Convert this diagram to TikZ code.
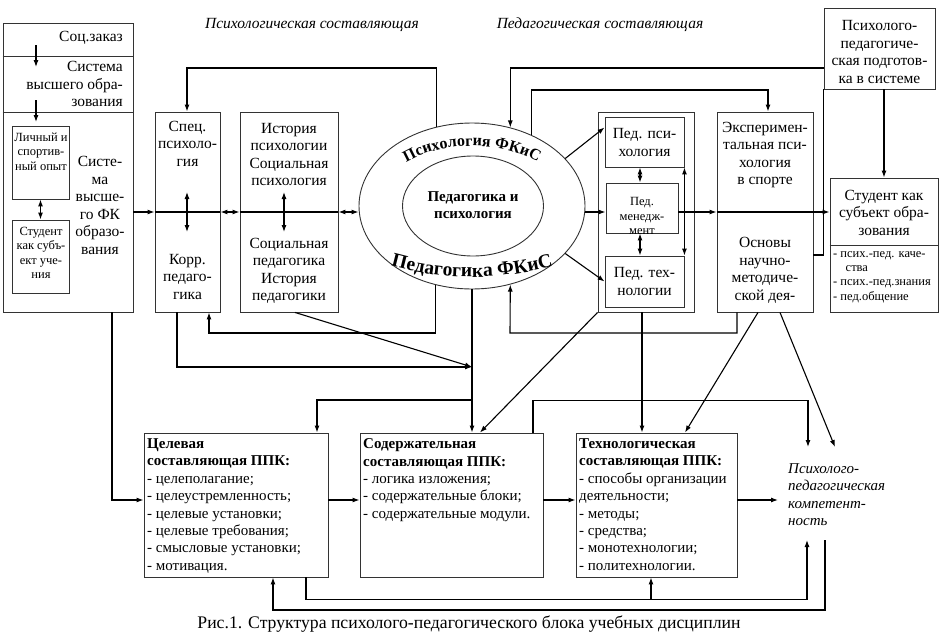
\documentclass[tikz,border=0pt]{standalone}
\usepackage{fontspec}
\setmainfont{Liberation Serif}
\usetikzlibrary{shapes.geometric, arrows.meta, decorations.text}

\newcommand\arcfontA{\fontsize{16}{16}\selectfont\bfseries}
\newcommand\arcfontB{\fontsize{19.5}{19.5}\selectfont\bfseries}

\tikzset{
  blk/.style={draw=black!80, line width=0.9pt, inner sep=0pt},
  arr/.style={line width=1.1pt, -{Latex[length=7pt,width=5pt]}},
  darr/.style={line width=1.1pt, {Latex[length=7pt,width=5pt]}-{Latex[length=7pt,width=5pt]}},
  ln/.style={line width=1.1pt},
  txt/.style={font=\fontsize{15.5}{17.5}\selectfont, align=center, inner sep=0pt},
  sml/.style={font=\fontsize{12.5}{14.5}\selectfont, align=center, inner sep=0pt},
  lst/.style={font=\fontsize{15}{17.4}\selectfont, align=left, inner sep=0pt, anchor=north west},
  head/.style={font=\fontsize{15.5}{17}\selectfont\itshape, inner sep=0pt},
}

\begin{document}
\begin{tikzpicture}[x=1pt, y=1pt]
    \useasboundingbox (0,0) rectangle (945,-637);

    % Headings
    \node[head] (hpsy) at (312,-25) {Психологическая составляющая};
    \node[head] (hped) at (600,-25) {Педагогическая составляющая};

    % Left column
    \node[blk, minimum width=130, minimum height=289] (left) at (68,-167.5) {};
    \draw[blk] (left.west |- 0,-56) -- (left.east |- 0,-56);
    \draw[blk] (left.west |- 0,-112) -- (left.east |- 0,-112);
    \node[txt, anchor=east] (zakaz) at (123,-38) {Соц.заказ};
    \node[txt, anchor=east, align=right] (vysh) at (123,-84) {Система\\высшего обра-\\зования};
    \node[blk, minimum width=57, minimum height=73] (lichn) at (40.5,-162.5) {};
    \node[sml] (lichnt) at (41,-151.5) {Личный и\\спортив-\\ный опыт};
    \node[blk, minimum width=57, minimum height=73] (stud1) at (40.5,-256.5) {};
    \node[sml] (stud1t) at (41,-253) {Студент\\как субъ-\\ект уче-\\ния};
    \node[txt] (sfk) at (100,-205.5) {Систе-\\ма\\высше-\\го ФК\\образо-\\вания};
    \coordinate (z1) at (36,-45);
    \coordinate (z2) at (36,-67);
    \coordinate (z3) at (36,-100);
    \coordinate (z4) at (36,-122);
    \draw[arr] (z1) -- (z2);
    \draw[arr] (z3) -- (z4);
    \draw[darr] (lichn) -- (stud1);

    % Psychological block
    \node[blk, minimum width=65, minimum height=200] (spec) at (187.5,-212) {};
    \node[txt] (spect) at (187.5,-143.5) {Спец.\\психоло-\\гия};
    \node[txt] (korr) at (187.5,-276.5) {Корр.\\педаго-\\гика};
    \node[blk, minimum width=98, minimum height=200] (ist) at (289,-212) {};
    \node[txt] (istt) at (289,-154.5) {История\\психологии\\Социальная\\психология};
    \node[txt] (istb) at (289,-271) {Социальная\\педагогика\\История\\педагогики};
    \coordinate (s1) at (187,-192);
    \coordinate (s2) at (187,-232);
    \coordinate (s3) at (284,-192);
    \coordinate (s4) at (284,-232);
    \draw[darr] (s1) -- (s2);
    \draw[darr] (s3) -- (s4);

    % Centre ellipse
    \node[ellipse, blk, minimum width=226, minimum height=166] (outer) at (472,-206) {};
    \node[ellipse, blk, minimum width=141, minimum height=100] (inner) at (473,-206) {};
    \node[font=\fontsize{15}{17}\selectfont\bfseries, align=center, inner sep=0pt] (innert) at (473,-205.5) {Педагогика и\\психология};
    \path[decorate, decoration={text along path, text align=center, text={|\arcfontA|Психология ФКиС}}]
        (472,-206) ++(145:96pt and 60pt) arc[start angle=145, end angle=35, x radius=96pt, y radius=60pt];
    \path[decorate, decoration={text along path, text align=center, text={|\arcfontB|Педагогика ФКиС}}]
        (472,23) ++(250:300pt) arc[start angle=250, end angle=290, radius=300pt];

    % Pedagogical block
    \node[blk, minimum width=96, minimum height=200] (pedgrp) at (646,-212) {};
    \node[blk, minimum width=79, minimum height=50] (pedpsy) at (644.5,-142) {};
    \node[txt] (pedpsyt) at (644.5,-142.5) {Пед. пси-\\хология};
    \node[blk, minimum width=72, minimum height=50] (pedman) at (642,-208) {};
    \begin{scope}
        \clip (pedman.south west) rectangle (pedman.north east);
        \node[sml] (pedmant) at (642,-216) {Пед.\\менедж-\\мент};
    \end{scope}
    \node[blk, minimum width=79, minimum height=51] (pedtech) at (644.5,-281.5) {};
    \node[txt] (pedtecht) at (644.5,-281.5) {Пед. тех-\\нологии};
    \draw[darr] (pedpsy.south -| 640,0) -- (pedman.north -| 640,0);
    \draw[darr] (pedman.south -| 640,0) -- (pedtech.north -| 640,0);
    \draw[darr] (pedpsy.south east) -- (pedtech.north east);

    \node[blk, minimum width=96, minimum height=200] (exp) at (765,-212) {};
    \node[txt] (expt) at (765,-155) {Эксперимен-\\тальная пси-\\хология\\в спорте};
    \node[txt] (expb) at (765,-270.5) {Основы\\научно-\\методиче-\\ской дея-};

    % Right column
    \node[blk, minimum width=111, minimum height=81] (ppp) at (879.5,-48.5) {};
    \node[txt] (pppt) at (879.5,-52) {Психолого-\\педагогиче-\\ская подготов-\\ка в системе};
    \node[blk, minimum width=108, minimum height=134] (stud2) at (884,-245) {};
    \draw[blk] (stud2.west) -- (stud2.east);
    \node[txt] (stud2t) at (884,-212.5) {Студент как\\субъект обра-\\зования};
    \node[font=\fontsize{12.5}{14.4}\selectfont, align=left, inner sep=0pt, anchor=north west] (stud2l) at (833,-251)
        {- псих.-пед. каче-\\\hspace*{1em}ства\\- псих.-пед.знания\\- пед.общение};

    % Bottom row
    \node[blk, minimum width=184, minimum height=144] (cel) at (236,-505) {};
    \node[lst] (celt) at (147,-438.5) {\textbf{Целевая}\\\textbf{составляющая ППК:}\\- целеполагание;\\- целеустремленность;\\- целевые установки;\\- целевые требования;\\- смысловые установки;\\- мотивация.};
    \node[blk, minimum width=183, minimum height=144] (sod) at (451.5,-505) {};
    \node[lst] (sodt) at (363,-438.5) {\textbf{Содержательная}\\\textbf{составляющая ППК:}\\- логика изложения;\\- содержательные блоки;\\- содержательные модули.};
    \node[blk, minimum width=161, minimum height=144] (tech) at (656.5,-505) {};
    \node[lst] (techt) at (579,-438.5) {\textbf{Технологическая}\\\textbf{составляющая ППК:}\\- способы организации\\деятельности;\\- методы;\\- средства;\\- монотехнологии;\\- политехнологии.};
    \node[lst, font=\fontsize{15}{17.4}\selectfont\itshape] (comp) at (788,-463.5) {Психолого-\\педагогическая\\компетент-\\ность};
    \coordinate (c0) at (778,-500);
    \coordinate (c1) at (808,-447);
    \coordinate (c2) at (835,-447);
    \coordinate (c3) at (807,-540);
    \coordinate (c4) at (825,-540);

    % Caption
    \node[font=\fontsize{17.7}{19}\selectfont, inner sep=0pt] (capt) at (469,-624) {Рис.1. Структура психолого-педагогического блока учебных дисциплин};

    % Main horizontal line
    \draw[arr] (left.east |- spec.west) -- (spec.west);
    \draw[ln] (spec.west) -- (spec.east);
    \draw[darr] (spec.east) -- (ist.west);
    \draw[ln] (ist.west) -- (ist.east);
    \draw[darr] (ist.east) -- (ist.east -| outer.west);
    \draw[arr] (outer.east |- spec.east) -- (pedman.west |- spec.east);
    \draw[arr] (pedman.east |- spec.east) -- (exp.west);
    \draw[ln] (exp.west) -- (exp.east);
    \draw[arr] (exp.east) -- (stud2.west |- exp.east);

    % Upper connectors
    \coordinate (t1) at (187,-68);
    \coordinate (t2) at (768,-90);
    \draw[arr] (outer.114) |- (t1) -- (spec.north -| t1);
    \draw[arr] (ppp.west |- 0,-68) -| (outer.64);
    \draw[arr] (outer.50) |- (t2) -- (exp.north -| t2);
    \draw[arr] (ppp.south -| stud2.north) -- (stud2.north);
    \draw[ln] (exp.east |- 0,-255) -| (ppp.south west);
    \draw[arr] (outer.27) -- (pedpsy.160);
    \draw[arr] (outer.-27) -- (pedtech.west);

    % Lower connectors
    \coordinate (jn) at (outer.south |- 0,-367);
    \coordinate (k1) at (209,-333);
    \coordinate (k2) at (510,-333);
    \draw[arr] (left.south -| 112,0) |- ([yshift=5]cel.west);
    \draw[arr] (spec.south -| 177,0) |- (jn);
    \draw[arr] (ist.south -| 295,0) -- (jn);
    \draw[arr] (outer.south) -- (sod.north -| outer.south);
    \draw[arr] (outer.south |- 0,-400) -| ([xshift=81]cel.north);
    \draw[arr] (outer.-115) |- (k1) -- (k1 |- spec.south);
    \draw[arr] ([xshift=-28]exp.south) |- (k2) -- (outer.-64);
    \draw[arr] (pedgrp.south west) -- ([xshift=28.5]sod.north);
    \draw[arr] (pedgrp.south -| pedman.south) -- (tech.north -| pedman.south);
    \draw[arr] ([xshift=-7]exp.south) -- ([xshift=28.5]tech.north);
    \draw[arr] ([xshift=15]exp.south) -- (c2);
    \draw[arr] ([xshift=81.5]sod.north) -- ++(0,32) -| (c1);

    % Bottom row links
    \draw[arr] ([yshift=5]cel.east) -- ([yshift=5]sod.west);
    \draw[arr] ([yshift=5]sod.east) -- ([yshift=5]tech.west);
    \draw[arr] ([yshift=5]tech.east) -- (c0);
    \draw[arr] ([xshift=70]cel.south) -- ++(0,-22) -| (c3);
    \draw[arr] ([xshift=-5.5]tech.south) ++(0,-22) -- ([xshift=-5.5]tech.south);
    \draw[arr] (c4) -- ++(0,-70) -| ([xshift=37]cel.south);
\end{tikzpicture}
\end{document}
